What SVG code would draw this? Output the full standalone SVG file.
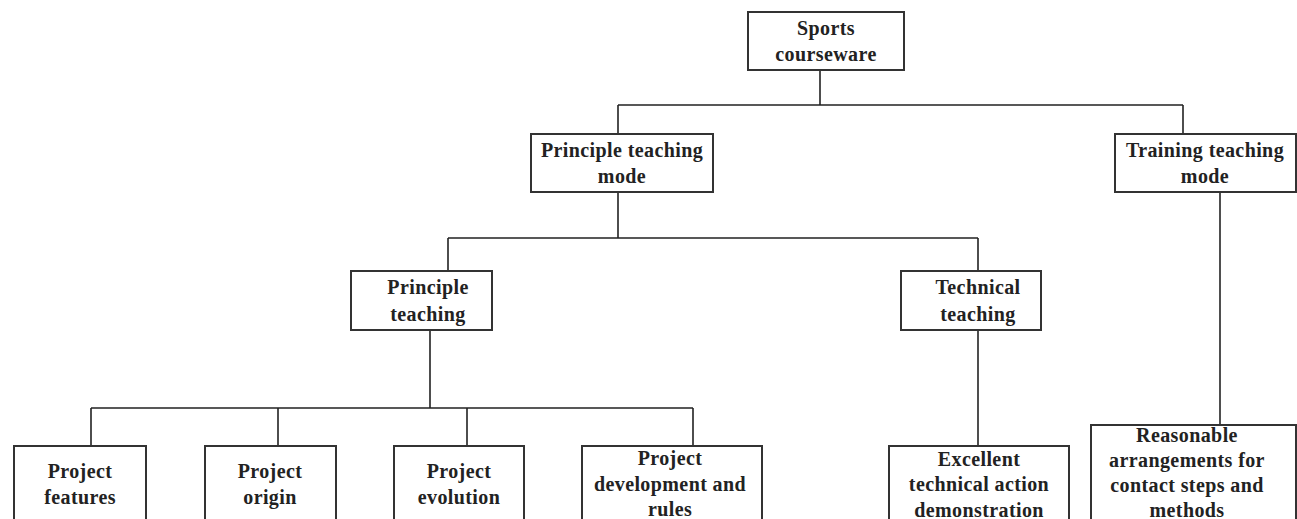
<svg xmlns="http://www.w3.org/2000/svg" width="1297" height="519" viewBox="0 0 1297 519">
<style>
.box{fill:#fff;stroke:#333;stroke-width:2}
.t{font-family:"Liberation Serif",serif;font-weight:bold;font-size:20px;letter-spacing:0.4px;fill:#222;text-anchor:middle}
.c{fill:none;stroke:#222;stroke-width:1.6}
</style>
<rect width="1297" height="519" fill="#fff"/>
<g id="connectors">
<path class="c" d="M820 70V105M618 105H1183M618 105V134M1183 105V134"/>
<path class="c" d="M618 192V238M448 238H978M448 238V271M978 238V271"/>
<path class="c" d="M430 330V408M91 408H693M91 408V446M278 408V446M467 408V446M693 408V446"/>
<path class="c" d="M978 330V446"/>
<path class="c" d="M1220 192V425"/>
</g>
<g id="n_sports"><rect class="box" x="748" y="12" width="156" height="58"/><text class="t" x="826" y="35">Sports</text><text class="t" x="826" y="61">courseware</text></g>
<g id="n_ptm"><rect class="box" x="531" y="134" width="182" height="58"/><text class="t" x="622" y="157">Principle teaching</text><text class="t" x="622" y="183">mode</text></g>
<g id="n_ttm"><rect class="box" x="1115" y="134" width="181" height="58"/><text class="t" x="1205" y="157">Training teaching</text><text class="t" x="1205" y="183">mode</text></g>
<g id="n_pt"><rect class="box" x="351" y="271" width="141" height="59"/><text class="t" x="428" y="294">Principle</text><text class="t" x="428" y="321">teaching</text></g>
<g id="n_tt"><rect class="box" x="901" y="271" width="140" height="59"/><text class="t" x="978" y="294">Technical</text><text class="t" x="978" y="321">teaching</text></g>
<g id="n_pf"><rect class="box" x="14" y="446" width="132" height="80"/><text class="t" x="80" y="478">Project</text><text class="t" x="80" y="504">features</text></g>
<g id="n_po"><rect class="box" x="205" y="446" width="131" height="80"/><text class="t" x="270" y="478">Project</text><text class="t" x="270" y="504">origin</text></g>
<g id="n_pe"><rect class="box" x="394" y="446" width="130" height="80"/><text class="t" x="459" y="478">Project</text><text class="t" x="459" y="504">evolution</text></g>
<g id="n_pd"><rect class="box" x="582" y="446" width="180" height="80"/><text class="t" x="670" y="465">Project</text><text class="t" x="670" y="491">development and</text><text class="t" x="670" y="516">rules</text></g>
<g id="n_ex"><rect class="box" x="889" y="446" width="180" height="80"/><text class="t" x="979" y="466">Excellent</text><text class="t" x="979" y="491">technical action</text><text class="t" x="979" y="517">demonstration</text></g>
<g id="n_ra"><rect class="box" x="1091" y="425" width="205" height="100"/><text class="t" x="1187" y="442">Reasonable</text><text class="t" x="1187" y="467">arrangements for</text><text class="t" x="1187" y="492">contact steps and</text><text class="t" x="1187" y="517">methods</text></g>
</svg>
